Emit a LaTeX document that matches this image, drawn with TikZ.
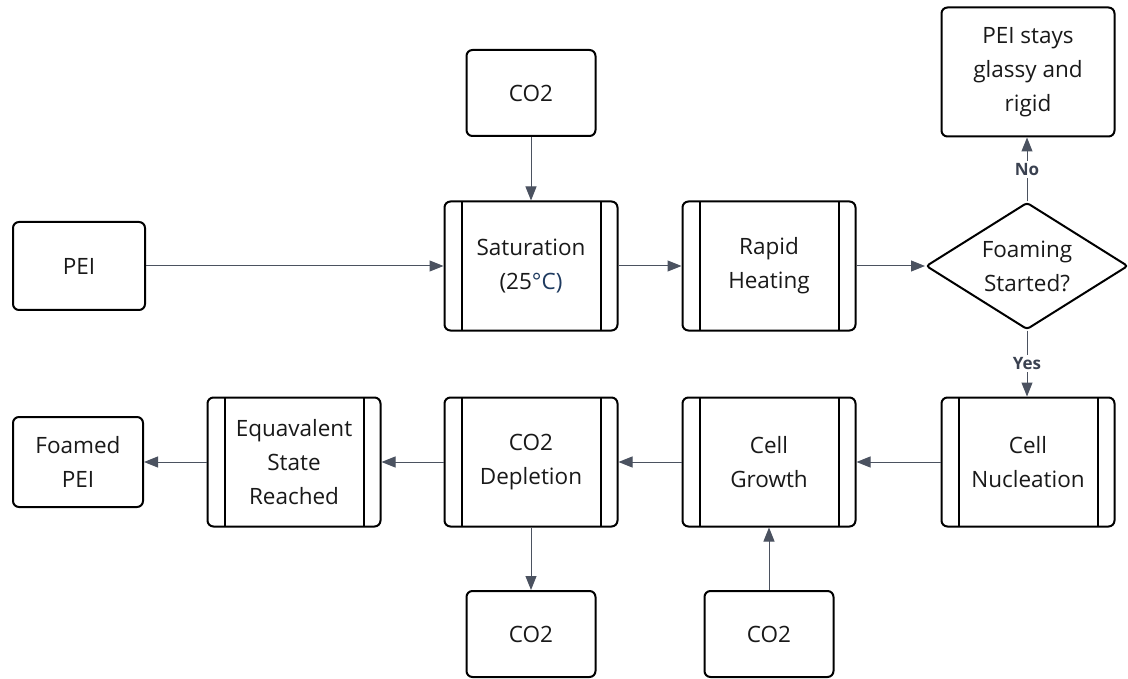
\documentclass[tikz,border=0pt]{standalone}
\usepackage{fontspec}
\setmainfont{Open Sans}
\usetikzlibrary{shapes.geometric,arrows.meta}
\definecolor{arrowgray}{HTML}{4B5260}
\definecolor{tipgray}{HTML}{3A4150}
\definecolor{degblue}{HTML}{1E3A5F}

\begin{document}
\begin{tikzpicture}[x=1pt,y=1pt]
\tikzstyle{every node}+=[inner sep=0pt, align=center, text=black!90, font=\fontsize{22.5}{34}\selectfont]
\tikzstyle{box}=[draw=black, line width=2pt, rounded corners=6pt, fill=white]
\tikzstyle{smallbox}=[box, minimum width=129pt, minimum height=86pt]
\tikzstyle{subproc}=[box, minimum width=173pt, minimum height=129pt,
  path picture={
    \draw[line width=2pt] ([xshift=17pt]path picture bounding box.north west) -- ([xshift=17pt]path picture bounding box.south west);
    \draw[line width=2pt] ([xshift=-17pt]path picture bounding box.north east) -- ([xshift=-17pt]path picture bounding box.south east);
  }]
\tikzstyle{flow}=[draw=arrowgray, line width=1pt, -{Triangle[length=14pt,width=11pt]}]
\tikzstyle{answer}=[fill=white, inner sep=2pt, text=tipgray, font=\fontsize{17}{20}\selectfont\bfseries]
\useasboundingbox (0,0) rectangle (1128,-679);
\node[box, minimum width=132pt, minimum height=88pt] (pei) at (79,-266) {PEI};
\node[smallbox] (co2in) at (531,-93) {CO2};
\node[subproc] (sat) at (531,-266) {Saturation\\(25\textcolor{degblue}{°C)}};
\node[subproc] (heat) at (769,-266) {Rapid\\Heating};
\node[draw=black, line width=2pt, diamond, aspect=1.6, minimum width=202pt, minimum height=127pt, rounded corners=3pt] (dec) at (1027,-266) {Foaming\\Started?};
\node[box, minimum width=173pt, minimum height=129pt] (stays) at (1028,-72) {PEI stays\\glassy and\\rigid};
\node[subproc] (nucl) at (1028,-462) {Cell\\Nucleation};
\node[subproc] (grow) at (769,-462) {Cell\\Growth};
\node[subproc] (depl) at (531,-462) {CO2\\Depletion};
\node[subproc] (equiv) at (294,-462) {Equavalent\\State\\Reached};
\node[box, minimum width=130pt, minimum height=90pt] (foamed) at (78,-462) {Foamed\\PEI};
\node[smallbox] (co2out) at (531,-634) {CO2};
\node[smallbox] (co2feed) at (769,-634) {CO2};
\draw[flow] (pei.east) -- (sat.west);
\draw[flow] (co2in.south) -- (sat.north);
\draw[flow] (sat.east) -- (heat.west);
\draw[flow] (heat.east) -- (dec.west);
\draw[flow] (dec.north) -- node[answer] {No} (dec.north |- stays.south);
\draw[flow] (dec.south) -- node[answer] {Yes} (dec.south |- nucl.north);
\draw[flow] (nucl.west) -- (grow.east);
\draw[flow] (grow.west) -- (depl.east);
\draw[flow] (depl.west) -- (equiv.east);
\draw[flow] (equiv.west) -- (foamed.east);
\draw[flow] (depl.south) -- (co2out.north);
\draw[flow] (co2feed.north) -- (grow.south);
\end{tikzpicture}
\end{document}
